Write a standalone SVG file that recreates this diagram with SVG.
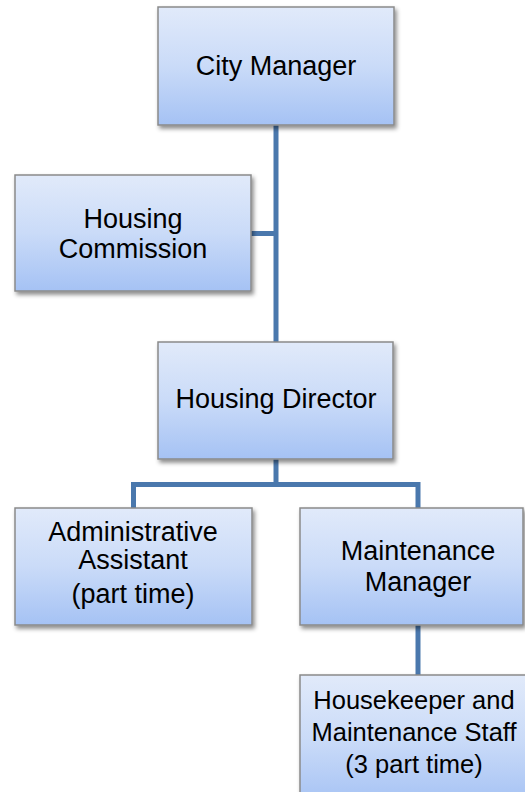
<svg xmlns="http://www.w3.org/2000/svg" width="525" height="792" viewBox="0 0 525 792">
  <defs>
    <linearGradient id="boxFill" x1="0" y1="0" x2="0" y2="1">
      <stop offset="0" stop-color="#E1EAFA"/>
      <stop offset="0.5" stop-color="#CADBF8"/>
      <stop offset="1" stop-color="#A5C2F4"/>
    </linearGradient>
    <filter id="shadow" x="-10%" y="-10%" width="125%" height="130%">
      <feDropShadow dx="2" dy="3" stdDeviation="2" flood-color="#000" flood-opacity="0.45"/>
    </filter>
  </defs>
  <style>
    .box { fill: url(#boxFill); stroke: #8A8A8A; stroke-width: 1.5; filter: url(#shadow); }
    .lbl { font-family: "Liberation Sans", Arial, sans-serif; font-size: 27px; fill: #000; text-anchor: middle; }
    .sm { font-size: 25.5px; }
    .conn { fill: none; stroke: #4A78AD; stroke-width: 5; stroke-linejoin: miter; stroke-linecap: butt; }
  </style>
  <rect width="525" height="792" fill="#FFFFFF"/>

  <g id="connectors">
    <path class="conn" d="M276,125 V342"/>
    <path class="conn" d="M251,233.5 H276"/>
    <path class="conn" d="M276,459 V484.5"/>
    <path class="conn" d="M133.5,508 V484.5 H418 V508"/>
    <path class="conn" d="M418,625 V675"/>
  </g>

  <g id="city-manager">
    <rect class="box" x="158" y="7" width="236" height="118"/>
    <text class="lbl" x="276" y="75">City Manager</text>
  </g>

  <g id="housing-commission">
    <rect class="box" x="15" y="175" width="236" height="116"/>
    <text class="lbl" x="133" y="228">Housing</text>
    <text class="lbl" x="133" y="258">Commission</text>
  </g>

  <g id="housing-director">
    <rect class="box" x="158" y="342" width="235" height="117"/>
    <text class="lbl" x="276" y="408">Housing Director</text>
  </g>

  <g id="administrative-assistant">
    <rect class="box" x="15" y="508" width="237" height="117"/>
    <text class="lbl" x="133" y="541">Administrative</text>
    <text class="lbl" x="133" y="569">Assistant</text>
    <text class="lbl" x="133" y="603">(part time)</text>
  </g>

  <g id="maintenance-manager">
    <rect class="box" x="300" y="508" width="223" height="117"/>
    <text class="lbl" x="418" y="560">Maintenance</text>
    <text class="lbl" x="418" y="591">Manager</text>
  </g>

  <g id="housekeeper-staff">
    <rect class="box" x="300" y="675" width="236" height="130"/>
    <text class="lbl sm" x="414" y="709">Housekeeper and</text>
    <text class="lbl sm" x="414" y="741">Maintenance Staff</text>
    <text class="lbl sm" x="414" y="773">(3 part time)</text>
  </g>
</svg>
